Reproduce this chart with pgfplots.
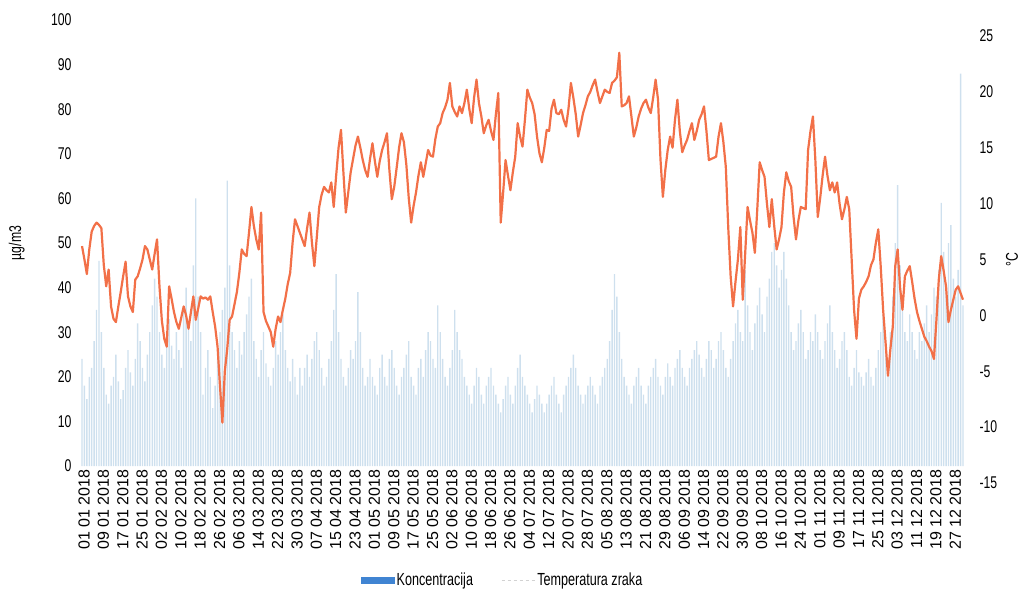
\documentclass[border=0pt]{standalone}
\usepackage{fontspec}
\setmainfont{Liberation Sans}
\newfontfamily\narrowfont{Liberation Sans}[FakeStretch=0.72]
\usepackage{pgfplots}
\usepackage{pgfplotstable}
\pgfplotsset{compat=1.18}
\definecolor{barc}{RGB}{206,224,238}
\definecolor{tempc}{RGB}{242,112,72}
\definecolor{legblue}{RGB}{64,132,210}
% daily concentration (ug/m3), 1 Jan - 31 Dec 2018
\pgfplotstableread[row sep=\\]{
c\\
24\\ 18\\ 15\\ 20\\ 22\\ 28\\ 35\\ 46\\ 30\\ 22\\ 16\\ 14\\ 18\\ 20\\ 25\\ 19\\ 15\\ 17\\ 22\\ 26\\ 21\\ 18\\ 24\\ 32\\ 28\\ 22\\ 19\\ 25\\ 30\\ 36\\ 42\\
38\\ 30\\ 25\\ 22\\ 28\\ 33\\ 27\\ 24\\ 30\\ 26\\ 22\\ 35\\ 40\\ 31\\ 28\\ 45\\ 60\\ 38\\ 30\\ 16\\ 22\\ 26\\ 20\\ 13\\ 18\\ 24\\ 30\\ 35\\
40\\ 64\\ 45\\ 30\\ 26\\ 22\\ 28\\ 25\\ 30\\ 34\\ 38\\ 42\\ 28\\ 24\\ 20\\ 26\\ 30\\ 23\\ 20\\ 18\\ 22\\ 28\\ 25\\ 30\\ 34\\ 26\\ 22\\ 19\\ 24\\ 20\\ 16\\
22\\ 18\\ 22\\ 25\\ 20\\ 24\\ 28\\ 30\\ 26\\ 22\\ 18\\ 20\\ 24\\ 28\\ 35\\ 43\\ 30\\ 24\\ 20\\ 18\\ 22\\ 26\\ 24\\ 28\\ 39\\ 30\\ 22\\ 18\\ 20\\ 24\\
20\\ 18\\ 16\\ 22\\ 25\\ 20\\ 18\\ 24\\ 26\\ 22\\ 18\\ 16\\ 20\\ 22\\ 25\\ 28\\ 20\\ 18\\ 16\\ 22\\ 24\\ 20\\ 26\\ 30\\ 28\\ 24\\ 22\\ 36\\ 30\\ 24\\ 20\\
18\\ 22\\ 26\\ 35\\ 30\\ 26\\ 24\\ 20\\ 18\\ 16\\ 14\\ 18\\ 22\\ 20\\ 16\\ 14\\ 18\\ 20\\ 22\\ 18\\ 16\\ 14\\ 12\\ 15\\ 18\\ 20\\ 16\\ 14\\ 18\\ 22\\
25\\ 20\\ 18\\ 16\\ 14\\ 12\\ 15\\ 18\\ 16\\ 14\\ 12\\ 14\\ 16\\ 18\\ 20\\ 16\\ 14\\ 12\\ 16\\ 18\\ 20\\ 22\\ 25\\ 22\\ 18\\ 16\\ 14\\ 16\\ 18\\ 20\\ 18\\
16\\ 14\\ 18\\ 20\\ 22\\ 24\\ 28\\ 35\\ 43\\ 38\\ 30\\ 24\\ 20\\ 18\\ 16\\ 14\\ 18\\ 20\\ 22\\ 18\\ 16\\ 14\\ 18\\ 20\\ 22\\ 24\\ 20\\ 18\\ 16\\ 20\\ 23\\
20\\ 18\\ 22\\ 24\\ 26\\ 22\\ 20\\ 18\\ 22\\ 24\\ 26\\ 28\\ 25\\ 22\\ 20\\ 24\\ 28\\ 26\\ 22\\ 24\\ 28\\ 30\\ 26\\ 22\\ 20\\ 24\\ 28\\ 32\\ 35\\ 30\\
28\\ 44\\ 36\\ 30\\ 26\\ 32\\ 36\\ 40\\ 34\\ 30\\ 38\\ 42\\ 48\\ 50\\ 45\\ 40\\ 44\\ 48\\ 42\\ 36\\ 30\\ 26\\ 28\\ 32\\ 35\\ 30\\ 24\\ 26\\ 30\\ 28\\ 34\\
30\\ 26\\ 24\\ 28\\ 32\\ 36\\ 30\\ 26\\ 22\\ 24\\ 28\\ 30\\ 26\\ 20\\ 18\\ 22\\ 26\\ 21\\ 20\\ 18\\ 21\\ 24\\ 20\\ 18\\ 22\\ 26\\ 30\\ 34\\ 28\\ 24\\
30\\ 38\\ 50\\ 63\\ 45\\ 35\\ 30\\ 28\\ 34\\ 30\\ 26\\ 24\\ 30\\ 28\\ 32\\ 36\\ 30\\ 34\\ 40\\ 38\\ 44\\ 59\\ 48\\ 40\\ 50\\ 54\\ 42\\ 38\\ 44\\ 88\\ 36\\
}\conc
% daily air temperature (deg C)
\pgfplotstableread[row sep=\\]{
t\\
6.2\\ 5.0\\ 3.7\\ 5.9\\ 7.5\\ 8.0\\ 8.3\\ 8.1\\ 7.8\\ 4.5\\
2.6\\ 4.1\\ 0.8\\ -0.3\\ -0.6\\ 0.8\\ 2.1\\ 3.5\\ 4.8\\ 1.7\\
0.8\\ 0.3\\ 3.2\\ 3.5\\ 4.2\\ 5.0\\ 6.2\\ 5.9\\ 5.0\\ 4.1\\
5.5\\ 6.8\\ 2.6\\ -0.5\\ -2.1\\ -2.8\\ 2.6\\ 1.5\\ 0.3\\ -0.6\\
-1.2\\ -0.2\\ 0.8\\ 0.0\\ -1.2\\ 0.3\\ 1.7\\ -0.4\\ 0.6\\ 1.7\\
1.5\\ 1.6\\ 1.4\\ 1.7\\ 0.3\\ -1.0\\ -2.8\\ -6.3\\ -9.6\\ -5.0\\
-3.0\\ -0.4\\ -0.1\\ 1.0\\ 2.1\\ 3.8\\ 5.9\\ 5.5\\ 5.3\\ 7.4\\
9.7\\ 8.0\\ 6.8\\ 5.9\\ 9.2\\ 0.3\\ -0.5\\ -1.0\\ -1.5\\ -2.8\\
-1.2\\ -0.1\\ -0.6\\ 0.5\\ 1.5\\ 2.8\\ 3.8\\ 6.5\\ 8.6\\ 8.0\\
7.4\\ 6.8\\ 6.2\\ 7.8\\ 9.2\\ 6.5\\ 4.4\\ 7.0\\ 9.7\\ 10.8\\
11.5\\ 11.2\\ 11.0\\ 11.9\\ 9.7\\ 12.5\\ 15.0\\ 16.6\\ 12.8\\ 9.2\\
11.0\\ 12.8\\ 14.0\\ 15.2\\ 16.0\\ 15.0\\ 13.9\\ 13.0\\ 12.4\\ 14.0\\
15.4\\ 13.8\\ 12.4\\ 13.8\\ 14.8\\ 15.5\\ 16.3\\ 13.0\\ 10.4\\ 11.5\\
13.2\\ 15.0\\ 16.3\\ 15.5\\ 13.5\\ 10.5\\ 8.3\\ 9.8\\ 11.0\\ 12.5\\
13.7\\ 12.4\\ 13.6\\ 14.8\\ 14.3\\ 14.2\\ 15.8\\ 16.9\\ 17.2\\ 18.1\\
18.6\\ 19.3\\ 20.8\\ 18.7\\ 18.2\\ 17.8\\ 18.7\\ 18.1\\ 19.0\\ 20.2\\
18.5\\ 17.2\\ 19.5\\ 21.1\\ 19.0\\ 17.8\\ 16.3\\ 17.0\\ 17.5\\ 16.5\\
15.7\\ 18.0\\ 19.9\\ 8.3\\ 11.0\\ 13.9\\ 12.5\\ 11.2\\ 12.8\\ 14.2\\
17.2\\ 16.0\\ 15.1\\ 17.5\\ 20.2\\ 19.5\\ 19.0\\ 18.0\\ 16.0\\ 14.5\\
13.7\\ 15.0\\ 16.6\\ 16.5\\ 18.5\\ 19.3\\ 18.1\\ 18.0\\ 18.4\\ 17.5\\
16.9\\ 18.5\\ 20.8\\ 19.5\\ 18.0\\ 16.0\\ 17.0\\ 18.1\\ 18.8\\ 19.6\\
20.0\\ 20.6\\ 21.1\\ 20.0\\ 19.0\\ 19.6\\ 20.2\\ 20.0\\ 19.9\\ 20.8\\
21.0\\ 21.3\\ 23.5\\ 18.7\\ 18.8\\ 19.0\\ 19.6\\ 17.8\\ 16.0\\ 16.8\\
17.8\\ 18.5\\ 19.0\\ 19.3\\ 18.6\\ 18.1\\ 19.5\\ 21.1\\ 19.3\\ 14.0\\
10.6\\ 13.0\\ 14.8\\ 16.0\\ 15.0\\ 17.5\\ 19.3\\ 16.5\\ 14.6\\ 15.2\\
15.7\\ 16.5\\ 17.2\\ 15.7\\ 16.5\\ 17.5\\ 18.0\\ 18.7\\ 16.5\\ 13.9\\
14.0\\ 14.1\\ 14.2\\ 16.0\\ 17.2\\ 15.5\\ 13.3\\ 7.9\\ 3.5\\ 0.8\\
3.0\\ 5.0\\ 7.9\\ 1.4\\ 5.5\\ 9.7\\ 8.5\\ 7.4\\ 5.6\\ 9.5\\
13.7\\ 13.0\\ 12.4\\ 10.0\\ 7.9\\ 10.4\\ 8.0\\ 5.9\\ 6.8\\ 7.9\\
11.0\\ 12.8\\ 12.0\\ 11.5\\ 8.8\\ 6.8\\ 8.5\\ 9.7\\ 9.6\\ 9.5\\
14.8\\ 16.5\\ 17.8\\ 13.9\\ 8.8\\ 10.5\\ 12.5\\ 14.2\\ 12.5\\ 11.2\\
11.9\\ 11.0\\ 11.9\\ 10.0\\ 8.6\\ 9.5\\ 10.6\\ 9.5\\ 5.0\\ 0.5\\
-2.1\\ 1.5\\ 2.3\\ 2.6\\ 3.0\\ 3.5\\ 4.5\\ 5.0\\ 6.5\\ 7.7\\
4.4\\ 0.5\\ -2.4\\ -5.4\\ -3.0\\ -1.0\\ 4.4\\ 5.9\\ 2.5\\ 0.5\\
3.5\\ 4.0\\ 4.4\\ 3.0\\ 1.5\\ 0.3\\ -0.5\\ -1.2\\ -1.9\\ -2.3\\
-2.8\\ -3.2\\ -3.9\\ -0.5\\ 3.2\\ 5.3\\ 4.0\\ 2.6\\ -0.6\\ 0.5\\
1.4\\ 2.3\\ 2.6\\ 2.0\\ 1.4\\
}\temp
\begin{document}
\begin{tikzpicture}
\useasboundingbox (0pt,0pt) rectangle (1021pt,598pt);
\begin{axis}[
  at={(75pt,132pt)}, anchor=south west,
  width=895pt, height=446pt, scale only axis,
  xmin=-2.9, xmax=366.9, ymin=0, ymax=100,
  ytick={0,10,...,100},
  xtick={0,8,...,360},
  xticklabels={01 01 2018,09 01 2018,17 01 2018,25 01 2018,02 02 2018,10 02 2018,18 02 2018,26 02 2018,06 03 2018,14 03 2018,22 03 2018,30 03 2018,07 04 2018,15 04 2018,23 04 2018,01 05 2018,09 05 2018,17 05 2018,25 05 2018,02 06 2018,10 06 2018,18 06 2018,26 06 2018,04 07 2018,12 07 2018,20 07 2018,28 07 2018,05 08 2018,13 08 2018,21 08 2018,29 08 2018,06 09 2018,14 09 2018,22 09 2018,30 09 2018,08 10 2018,16 10 2018,24 10 2018,01 11 2018,09 11 2018,17 11 2018,25 11 2018,03 12 2018,11 12 2018,19 12 2018,27 12 2018},
  x tick label style={rotate=90, anchor=east, font=\fontsize{16}{16}\selectfont, yshift=-2pt},
  y tick label style={font=\narrowfont\fontsize{17}{17}\selectfont},
  /pgf/number format/assume math mode=true,
  axis line style={draw=none},
  major tick length=0pt,
  ylabel={µg/m3},
  ylabel style={at={(axis description cs:-0.065,0.5)}, anchor=center, font=\narrowfont\fontsize{17}{17}\selectfont},
  legend columns=2,
  legend style={at={(axis description cs:0.478,-0.256)}, anchor=center, draw=none, fill=none,
    font=\narrowfont\fontsize{17.5}{17.5}\selectfont,
    /tikz/every even column/.append style={column sep=26pt}},
]
\addplot[ybar, bar width=1.4pt, fill=barc, draw=none, forget plot] table[x expr=\coordindex, y=c] {\conc};
\addlegendimage{legend image code/.code={\fill[legblue] (0pt,-3pt) rectangle (33pt,3pt);}}
\addlegendentry{Koncentracija}
\addlegendimage{legend image code/.code={\draw[gray!35, dashed, line width=1.2pt] (0pt,0pt) -- (33pt,0pt);}}
\addlegendentry{Temperatura zraka}
\end{axis}
\begin{axis}[
  at={(75pt,115pt)}, anchor=south west,
  width=895pt, height=447pt, scale only axis,
  xmin=-2.9, xmax=366.9, ymin=-15, ymax=25,
  axis y line*=right, axis x line=none,
  ytick={-15,-10,...,25},
  y tick label style={font=\narrowfont\fontsize{17}{17}\selectfont, anchor=west, xshift=6pt},
  /pgf/number format/assume math mode=true,
  axis line style={draw=none},
  major tick length=0pt,
  ylabel={°C},
  ylabel style={at={(axis description cs:1.047,0.5)}, anchor=center, font=\narrowfont\fontsize{17}{17}\selectfont},
]
\addplot[tempc, line width=2.2pt, line join=round] table[x expr=\coordindex, y=t] {\temp};
\end{axis}
\end{tikzpicture}
\end{document}
